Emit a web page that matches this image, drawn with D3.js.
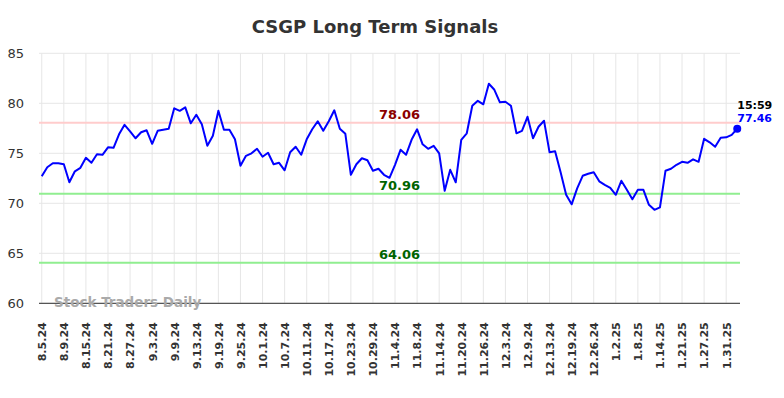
<!DOCTYPE html>
<html>
<head>
<meta charset="utf-8">
<script src="https://cdn.jsdelivr.net/npm/d3@7"></script>
<style>
body { margin: 0; background: #fff; }
text { font-family: "DejaVu Sans", sans-serif; }
</style>
</head>
<body>
<svg id="svg"></svg>
<script>
// chart data

var title = "CSGP Long Term Signals";

var tickLabels = ["8.5.24", "8.9.24", "8.15.24", "8.21.24", "8.27.24", "9.3.24", "9.9.24", "9.13.24",
    "9.19.24", "9.25.24", "10.1.24", "10.7.24", "10.11.24", "10.17.24", "10.23.24", "10.29.24",
    "11.4.24", "11.8.24", "11.14.24", "11.20.24", "11.26.24", "12.3.24", "12.9.24", "12.13.24",
    "12.19.24", "12.26.24", "1.2.25", "1.8.25", "1.14.25", "1.21.25", "1.27.25", "1.31.25"];

var prices = [
    72.7, 73.6, 74.0, 74.0, 73.9, 72.1, 73.2, 73.55, 74.55, 74.05,
    74.9, 74.85, 75.6, 75.55, 76.9, 77.85, 77.2, 76.5, 77.1, 77.3,
    75.95, 77.25, 77.35, 77.45, 79.5, 79.25, 79.6, 78.0, 78.85, 77.9,
    75.75, 76.75, 79.25, 77.35, 77.35, 76.4, 73.75, 74.75, 75.0, 75.45,
    74.65, 75.05, 73.9, 74.05, 73.3, 75.1, 75.65, 74.85, 76.4, 77.4,
    78.2, 77.25, 78.2, 79.3, 77.45, 76.95, 72.85, 73.9, 74.5, 74.3,
    73.25, 73.45, 72.85, 72.55, 73.85, 75.35, 74.85, 76.35, 77.4, 75.9,
    75.45, 75.75, 75.0, 71.25, 73.35, 72.1, 76.35, 77.0, 79.75, 80.25,
    79.9, 81.95, 81.35, 80.1, 80.15, 79.75, 77.0, 77.25, 78.65, 76.5,
    77.65, 78.25, 75.1, 75.2, 73.1, 70.85, 69.9, 71.5, 72.75, 72.95,
    73.1, 72.2, 71.85, 71.55, 70.85, 72.25, 71.35, 70.4, 71.35, 71.35,
    69.85, 69.35, 69.6, 73.25, 73.45, 73.85, 74.15, 74.05, 74.4, 74.15,
    76.45, 76.1, 75.65, 76.55, 76.6, 76.85, 77.46];

var signalValues = [78.06, 70.96, 64.06];
var signalKinds = ["high", "low", "low"];
var yTicks = [60, 65, 70, 75, 80, 85];
var lastTime = "15:59";

//////////////////////////////////////////////////////////////////////////////

var width = 784, height = 398;
var plotLeft = 39, plotRight = 740, plotTop = 53.3, plotBottom = 303.3;

var svg = d3.select("#svg").attr("width", width).attr("height", height);

var x = d3.scaleLinear().domain([-0.5, prices.length - 0.5]).range([plotLeft, plotRight]);
var y = d3.scaleLinear().domain([60, 85]).range([plotBottom, plotTop]);

// title
svg.append("text")
    .attr("x", 375).attr("y", 32.5)
    .attr("text-anchor", "middle")
    .attr("font-size", 18).attr("font-weight", "bold")
    .attr("fill", "#333")
    .text(title);

// vertical grid, one line per labelled day
var tickIdx = tickLabels.map(function(d, i) { return i * 4; });
svg.append("g").selectAll("line")
    .data(tickIdx).enter().append("line")
    .attr("x1", function(d) { return x(d); }).attr("x2", function(d) { return x(d); })
    .attr("y1", plotTop).attr("y2", plotBottom)
    .attr("stroke", "#e6e6e6").attr("stroke-width", 1);

// horizontal grid
svg.append("g").selectAll("line")
    .data(yTicks).enter().append("line")
    .attr("x1", plotLeft).attr("x2", plotRight)
    .attr("y1", function(d) { return y(d); }).attr("y2", function(d) { return y(d); })
    .attr("stroke", "#e6e6e6").attr("stroke-width", 1);

// y axis labels
var yAxis = d3.axisLeft(y).tickValues(yTicks).tickSize(0).tickPadding(0);
var yg = svg.append("g").attr("transform", "translate(24,0)").call(yAxis);
yg.select(".domain").remove();
yg.selectAll("text").attr("font-size", 13).attr("fill", "#333")
    .attr("font-family", "DejaVu Sans, sans-serif");

// x axis labels, rotated
var xAxis = d3.axisBottom(x).tickValues(tickIdx)
    .tickFormat(function(d, i) { return tickLabels[i]; })
    .tickSize(0).tickPadding(0);
var xg = svg.append("g").attr("transform", "translate(0," + plotBottom + ")").call(xAxis);
xg.select(".domain").remove();
xg.selectAll("text")
    .attr("font-size", 11).attr("font-weight", "bold").attr("fill", "#333")
    .attr("font-family", "DejaVu Sans, sans-serif")
    .attr("transform", "rotate(-90)")
    .attr("text-anchor", "end")
    .attr("x", -19).attr("y", 0).attr("dy", "0.35em");

// baseline
svg.append("line")
    .attr("x1", plotLeft).attr("x2", plotRight)
    .attr("y1", plotBottom).attr("y2", plotBottom)
    .attr("stroke", "#555").attr("stroke-width", 1.2);

// watermark
svg.append("text")
    .attr("x", 54).attr("y", 307)
    .attr("font-size", 13.5).attr("font-weight", "bold")
    .attr("fill", "#aaa")
    .text("Stock Traders Daily");

// signal lines
svg.append("g").selectAll("line")
    .data(signalValues).enter().append("line")
    .attr("x1", plotLeft).attr("x2", plotRight)
    .attr("y1", function(d) { return y(d); }).attr("y2", function(d) { return y(d); })
    .attr("stroke", function(d, i) { return signalKinds[i] == "high" ? "#ffcccc" : "#90ee90"; })
    .attr("stroke-width", 2);

svg.append("g").selectAll("text")
    .data(signalValues).enter().append("text")
    .attr("x", 399.5)
    .attr("y", function(d) { return y(d) - 4; })
    .attr("text-anchor", "middle")
    .attr("font-size", 13).attr("font-weight", "bold")
    .attr("fill", function(d, i) { return signalKinds[i] == "high" ? "#8b0000" : "#006400"; })
    .text(function(d) { return d.toFixed(2); });

// price line
var line = d3.line()
    .x(function(d, i) { return x(i); })
    .y(function(d) { return y(d); });

svg.append("path")
    .datum(prices)
    .attr("d", line)
    .attr("fill", "none")
    .attr("stroke", "#0000ff")
    .attr("stroke-width", 2)
    .attr("stroke-linejoin", "round");

// last point
var last = prices.length - 1;
svg.append("circle")
    .attr("cx", x(last)).attr("cy", y(prices[last]))
    .attr("r", 4).attr("fill", "#0000ff");

svg.append("text")
    .attr("x", x(last)).attr("y", y(prices[last]) - 20)
    .attr("font-size", 11).attr("font-weight", "bold").attr("fill", "#000")
    .text(lastTime);

svg.append("text")
    .attr("x", x(last)).attr("y", y(prices[last]) - 7)
    .attr("font-size", 11).attr("font-weight", "bold").attr("fill", "#0000ff")
    .text(prices[last].toFixed(2));
</script>
</body>
</html>
